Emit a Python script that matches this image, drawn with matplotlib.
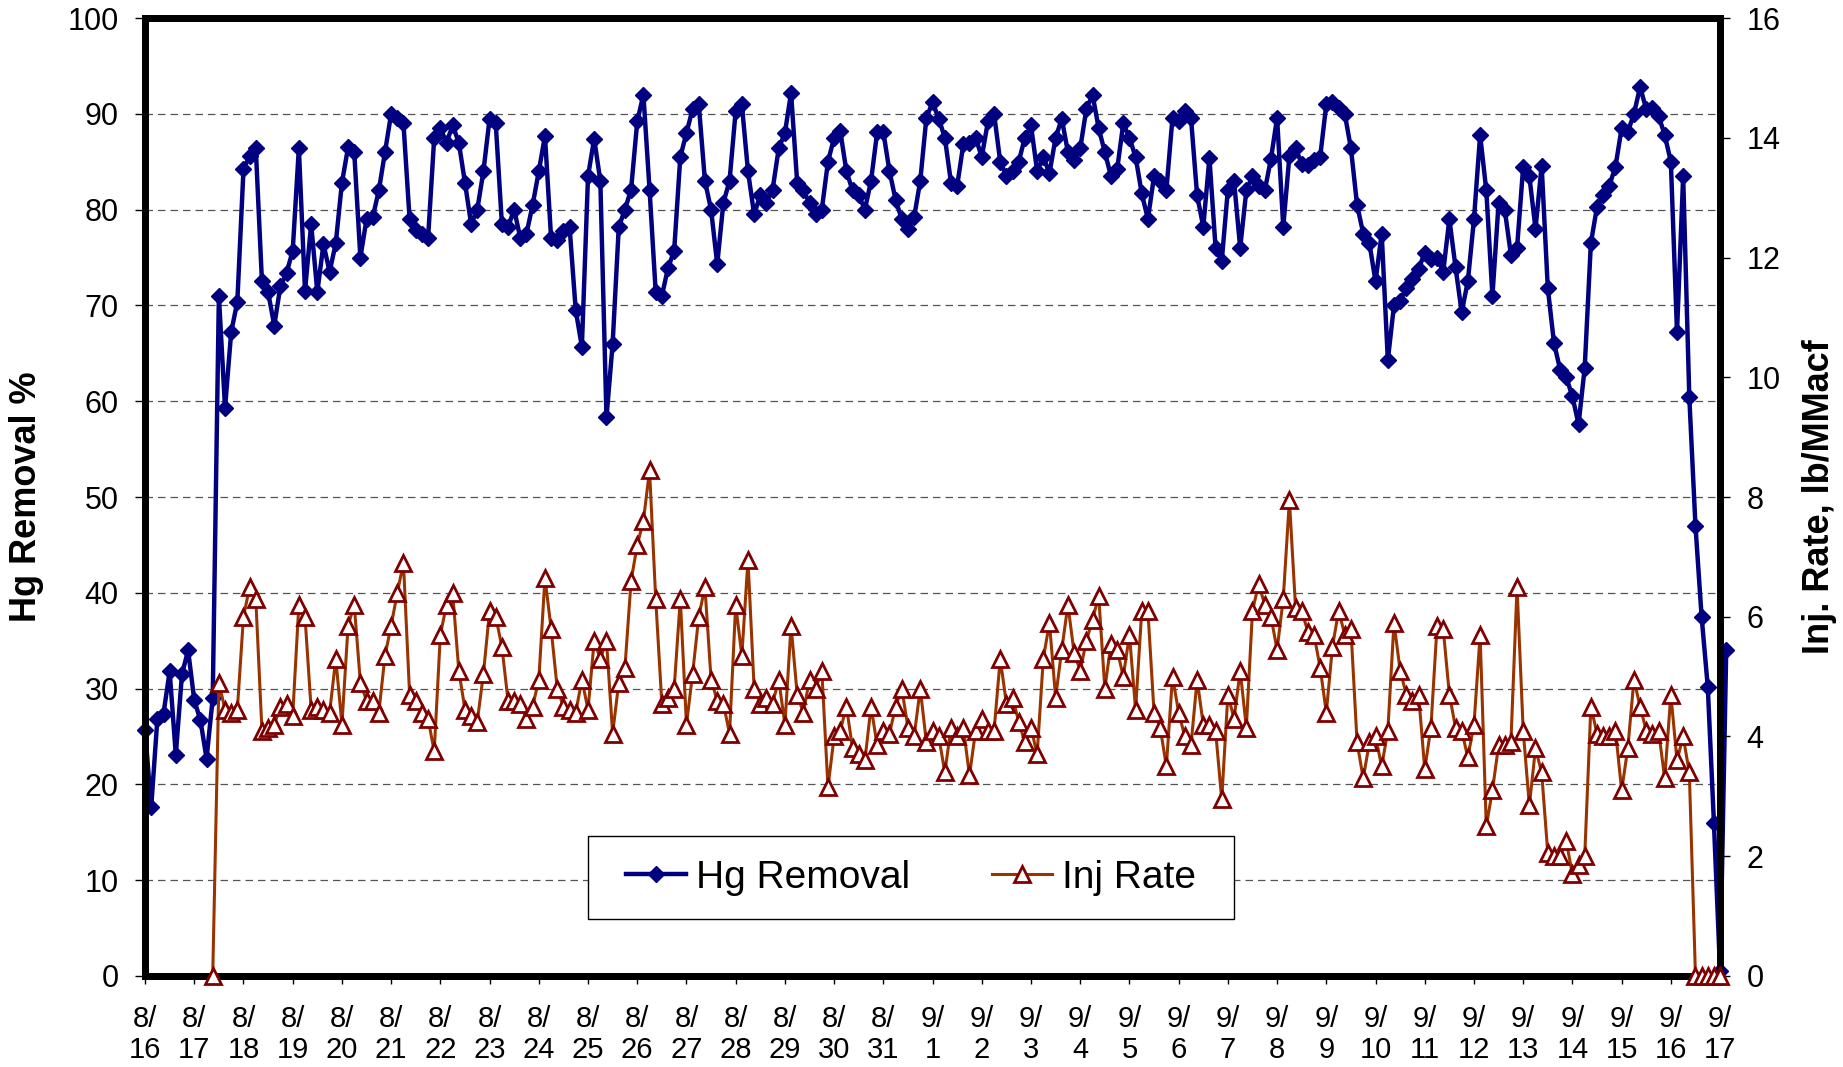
import numpy as np
import matplotlib
matplotlib.use("Agg")
import matplotlib.pyplot as plt
from matplotlib.patches import Rectangle

# Hg removal (%) and sorbent injection rate (lb/MMacf), 8/16 - 9/17.
# Readings taken every 3 hours (8 per day), one row per day.
SAMPLES_PER_DAY = 8

hg_pct = [
    25.7, 17.6, 26.8, 27.4, 31.8, 23.1, 31.5, 34.0,  # 8/16
    28.8, 26.7, 22.7, 29.0, 71.0, 59.3, 67.2, 70.4,  # 8/17
    84.2, 85.6, 86.4, 72.5, 71.4, 67.9, 72.0, 73.4,  # 8/18
    75.7, 86.4, 71.5, 78.5, 71.4, 76.4, 73.5, 76.5,  # 8/19
    82.8, 86.5, 86.0, 75.0, 79.0, 79.2, 82.0, 86.0,  # 8/20
    90.0, 89.6, 89.0, 79.0, 77.9, 77.5, 77.0, 87.5,  # 8/21
    88.5, 87.0, 88.8, 87.0, 82.8, 78.5, 80.0, 84.0,  # 8/22
    89.5, 89.0, 78.5, 78.2, 80.0, 77.0, 77.5, 80.5,  # 8/23
    84.0, 87.7, 77.0, 76.8, 77.8, 78.2, 69.5, 65.7,  # 8/24
    83.5, 87.4, 83.0, 58.3, 66.0, 78.2, 80.0, 82.1,  # 8/25
    89.2, 92.0, 82.1, 71.4, 71.0, 73.9, 75.7, 85.5,  # 8/26
    88.0, 90.5, 91.0, 83.0, 80.0, 74.3, 80.7, 83.0,  # 8/27
    90.3, 91.0, 84.0, 79.5, 81.5, 80.7, 82.1, 86.4,  # 8/28
    88.0, 92.2, 82.8, 82.0, 80.7, 79.5, 80.0, 85.0,  # 8/29
    87.5, 88.2, 84.0, 82.0, 81.5, 80.0, 83.0, 88.1,  # 8/30
    88.1, 84.0, 81.0, 79.0, 78.0, 79.2, 83.0, 89.6,  # 8/31
    91.2, 89.5, 87.5, 82.8, 82.5, 86.8, 87.0, 87.5,  # 9/1
    85.5, 89.2, 90.0, 85.0, 83.5, 84.0, 85.0, 87.5,  # 9/2
    88.8, 84.0, 85.5, 83.8, 87.5, 89.5, 86.0, 85.2,  # 9/3
    86.4, 90.5, 92.0, 88.5, 86.0, 83.5, 84.2, 89.0,  # 9/4
    87.5, 85.5, 81.7, 79.0, 83.5, 83.0, 82.0, 89.6,  # 9/5
    89.3, 90.3, 89.6, 81.5, 78.2, 85.4, 76.0, 74.6,  # 9/6
    82.1, 83.0, 76.0, 82.0, 83.5, 82.5, 82.0, 85.3,  # 9/7
    89.6, 78.2, 85.6, 86.4, 84.8, 84.7, 85.2, 85.5,  # 9/8
    91.0, 91.2, 90.6, 90.0, 86.4, 80.5, 77.5, 76.5,  # 9/9
    72.5, 77.5, 64.3, 70.0, 70.5, 71.8, 72.8, 73.8,  # 9/10
    75.5, 74.8, 75.0, 73.5, 79.0, 74.0, 69.3, 72.5,  # 9/11
    79.0, 87.8, 82.0, 71.0, 80.7, 80.0, 75.3, 76.0,  # 9/12
    84.5, 83.5, 78.0, 84.6, 71.8, 66.1, 63.3, 62.5,  # 9/13
    60.5, 57.6, 63.5, 76.5, 80.3, 81.5, 82.5, 84.5,  # 9/14
    88.5, 88.1, 90.0, 92.8, 90.5, 90.6, 89.8, 87.8,  # 9/15
    85.0, 67.2, 83.5, 60.4, 47.0, 37.5, 30.2, 16.0,  # 9/16
    0.5, 34.0,                                       # 9/17
]

# injection starts at the 12th reading (8/17 ~09:00)
INJ_FIRST_SAMPLE = 11
inj_rate = [
    0.0, 4.9, 4.45, 4.4, 4.45,                        # 8/17
    6.0, 6.5, 6.3, 4.1, 4.15, 4.2, 4.5, 4.55,         # 8/18
    4.35, 6.2, 6.0, 4.45, 4.5, 4.45, 4.4, 5.3,        # 8/19
    4.2, 5.85, 6.2, 4.9, 4.6, 4.6, 4.4, 5.35,         # 8/20
    5.85, 6.4, 6.9, 4.7, 4.6, 4.4, 4.3, 3.75,         # 8/21
    5.7, 6.2, 6.4, 5.1, 4.45, 4.35, 4.25, 5.05,       # 8/22
    6.1, 6.0, 5.5, 4.6, 4.6, 4.55, 4.3, 4.5,          # 8/23
    4.95, 6.65, 5.8, 4.8, 4.5, 4.45, 4.4, 4.95,       # 8/24
    4.45, 5.6, 5.3, 5.6, 4.05, 4.9, 5.15, 6.6,        # 8/25
    7.2, 7.6, 8.45, 6.3, 4.55, 4.65, 4.8, 6.3,        # 8/26
    4.2, 5.05, 6.0, 6.5, 4.95, 4.6, 4.55, 4.05,       # 8/27
    6.2, 5.35, 6.95, 4.8, 4.55, 4.65, 4.55, 4.95,     # 8/28
    4.2, 5.85, 4.7, 4.4, 4.95, 4.8, 5.1, 3.15,        # 8/29
    4.0, 4.1, 4.5, 3.8, 3.7, 3.6, 4.5, 3.85,          # 8/30
    4.1, 4.05, 4.5, 4.8, 4.15, 4.0, 4.8, 3.9,         # 8/31
    4.1, 4.0, 3.4, 4.15, 4.0, 4.15, 3.35, 4.1,        # 9/1
    4.3, 4.1, 4.1, 5.3, 4.55, 4.65, 4.25, 3.9,        # 9/2
    4.15, 3.7, 5.3, 5.9, 4.65, 5.45, 6.2, 5.4,        # 9/3
    5.1, 5.6, 5.95, 6.35, 4.8, 5.55, 5.45, 5.0,       # 9/4
    5.7, 4.45, 6.1, 6.1, 4.4, 4.15, 3.5, 5.0,         # 9/5
    4.4, 4.0, 3.85, 4.95, 4.2, 4.2, 4.1, 2.95,        # 9/6
    4.7, 4.3, 5.1, 4.15, 6.1, 6.55, 6.2, 6.0,         # 9/7
    5.45, 6.3, 7.95, 6.15, 6.1, 5.75, 5.7, 5.15,      # 9/8
    4.4, 5.5, 6.1, 5.7, 5.8, 3.9, 3.3, 3.9,           # 9/9
    4.0, 3.5, 4.1, 5.9, 5.1, 4.7, 4.6, 4.7,           # 9/10
    3.45, 4.15, 5.85, 5.8, 4.7, 4.15, 4.1, 3.65,      # 9/11
    4.2, 5.7, 2.5, 3.1, 3.85, 3.85, 3.9, 6.5,         # 9/12
    4.1, 2.85, 3.8, 3.4, 2.05, 2.0, 2.0, 2.25,        # 9/13
    1.7, 1.85, 2.0, 4.5, 4.05, 4.0, 4.0, 4.1,         # 9/14
    3.1, 3.8, 4.95, 4.5, 4.1, 4.05, 4.1, 3.3,         # 9/15
    4.7, 3.6, 4.0, 3.4, 0.0, 0.0, 0.0, 0.0,           # 9/16
    0.0,                                              # 9/17
]

tick_dates = [("8", d) for d in range(16, 32)] + [("9", d) for d in range(1, 18)]

hg_day = np.arange(len(hg_pct)) / SAMPLES_PER_DAY
inj_day = (INJ_FIRST_SAMPLE + np.arange(len(inj_rate))) / SAMPLES_PER_DAY

plt.rcParams['font.family'] = ['Liberation Sans', 'DejaVu Sans']

fig = plt.figure(figsize=(18.43, 10.67), dpi=100)
ax = fig.add_axes([0.0787, 0.0853, 0.8546, 0.8978])
ax2 = ax.twinx()

hg_line, = ax.plot(hg_day, hg_pct, color="#000080", lw=3.2, marker="D", ms=8,
                   mfc="#000080", mec="#000080", clip_on=False, label="Hg Removal")
inj_line, = ax2.plot(inj_day, inj_rate, color="#993300", lw=2.2, marker="^", ms=11,
                     mfc="white", mec="#800000", mew=2.0, clip_on=False, zorder=3,
                     label="Inj Rate")

ax.set_xlim(0, len(tick_dates) - 1)
ax.set_ylim(0, 100)
ax2.set_ylim(0, 16)
ax.set_yticks(np.arange(0, 101, 10))
ax2.set_yticks(np.arange(0, 17, 2))
ax.set_xticks(np.arange(len(tick_dates)))
ax.set_xticklabels([f"{m}/\n{d}" for (m, d) in tick_dates], linespacing=1.15)

ax.yaxis.grid(True, linestyle=(0, (6, 4)), color="#555555", lw=0.9)
ax.set_axisbelow(True)

for a in (ax, ax2):
    for s in a.spines.values():
        s.set_linewidth(5)
        s.set_color("black")
ax.tick_params(axis="y", direction="out", length=7, width=1, pad=12, labelsize=22)
ax.tick_params(axis="x", direction="out", length=6, width=1, pad=15, labelsize=21)
ax2.tick_params(axis="y", direction="out", length=7, width=1, pad=12, labelsize=22)

ax.set_ylabel("Hg Removal %", fontsize=26, fontweight="bold")
ax.yaxis.set_label_coords(-0.064, 0.5)
ax2.set_ylabel("Inj. Rate, lb/MMacf", fontsize=26, fontweight="bold")
ax2.yaxis.set_label_coords(1.052, 0.5)

# legend box (wider than tall padding, so the frame is drawn separately)
ax2.add_patch(Rectangle((0.2813, 0.0595), 0.4102, 0.0866, transform=ax2.transAxes,
                        facecolor="white", edgecolor="black", lw=1.0, zorder=4))
leg = ax2.legend(handles=[hg_line, inj_line], loc="center", bbox_to_anchor=(0.4863, 0.1028),
                 ncol=2, fontsize=28, frameon=False, handlelength=1.55, handletextpad=0.26,
                 columnspacing=2.1, borderpad=0.2)
leg.set_zorder(5)

fig.savefig("out.png", dpi=100)
plt.close(fig)
